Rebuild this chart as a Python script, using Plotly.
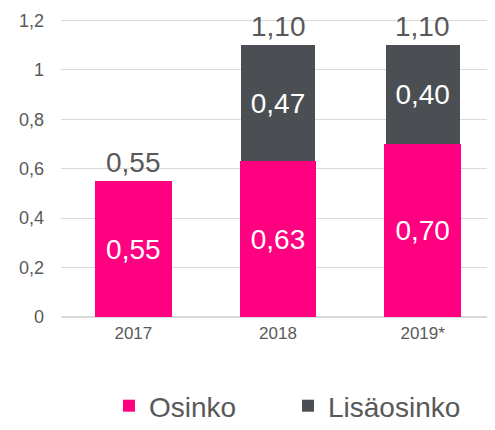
import plotly.graph_objects as go

categories = ["2017", "2018", "2019*"]
osinko = [0.55, 0.63, 0.70]
lisaosinko = [None, 0.47, 0.40]
tick_vals = [0, 0.2, 0.4, 0.6, 0.8, 1.0, 1.2]

PINK = "#FF0080"
GRAY = "#4B4F54"
TEXT = "#595959"

fig = go.Figure()
fig.add_trace(go.Bar(
    x=categories, y=osinko, name="Osinko", marker=dict(color=PINK, line=dict(width=0)),
    texttemplate="%{y:.2f}", textposition="inside", insidetextanchor="middle",
    textfont=dict(color="white", size=28), width=0.53,
))
fig.add_trace(go.Bar(
    x=categories, y=lisaosinko, name="Lisäosinko", marker=dict(color=GRAY, line=dict(width=0)),
    texttemplate="%{y:.2f}", textposition="inside", insidetextanchor="middle",
    textfont=dict(color="white", size=28), width=0.51,
))

totals = [a + (b or 0) for a, b in zip(osinko, lisaosinko)]
for i, t in enumerate(totals):
    fig.add_annotation(
        x=i, y=t, text=f"{t:.2f}".replace(".", ","), showarrow=False,
        yanchor="bottom", yshift=1, font=dict(size=28, color=TEXT),
    )

fig.update_layout(
    barmode="stack",
    width=495, height=430,
    margin=dict(l=53, r=8, t=10, b=121, autoexpand=False),
    paper_bgcolor="white", plot_bgcolor="white",
    separators=", ",
    font=dict(family="Liberation Sans, Arial, sans-serif", color=TEXT),
    showlegend=True,
    legend=dict(orientation="h", traceorder="normal", xref="container", yref="container",
                x=101 / 495, xanchor="left", y=(430 - 398) / 430, yanchor="middle",
                font=dict(size=28, color=TEXT), entrywidth=134, entrywidthmode="pixels"),
)
fig.update_yaxes(range=[0, 1.21], tickvals=tick_vals, showgrid=True, gridcolor="#D9D9D9",
                 gridwidth=1, zeroline=True, zerolinecolor="#D9D9D9", automargin=False,
                 tickfont=dict(size=18, color=TEXT), ticks="", ticklabelstandoff=16)
fig.update_xaxes(type="category", range=[-0.5, 2.5], tickfont=dict(size=17, color=TEXT),
                 showline=False, ticks="", automargin=False, ticklabelstandoff=4)

fig.write_html("out.html")
